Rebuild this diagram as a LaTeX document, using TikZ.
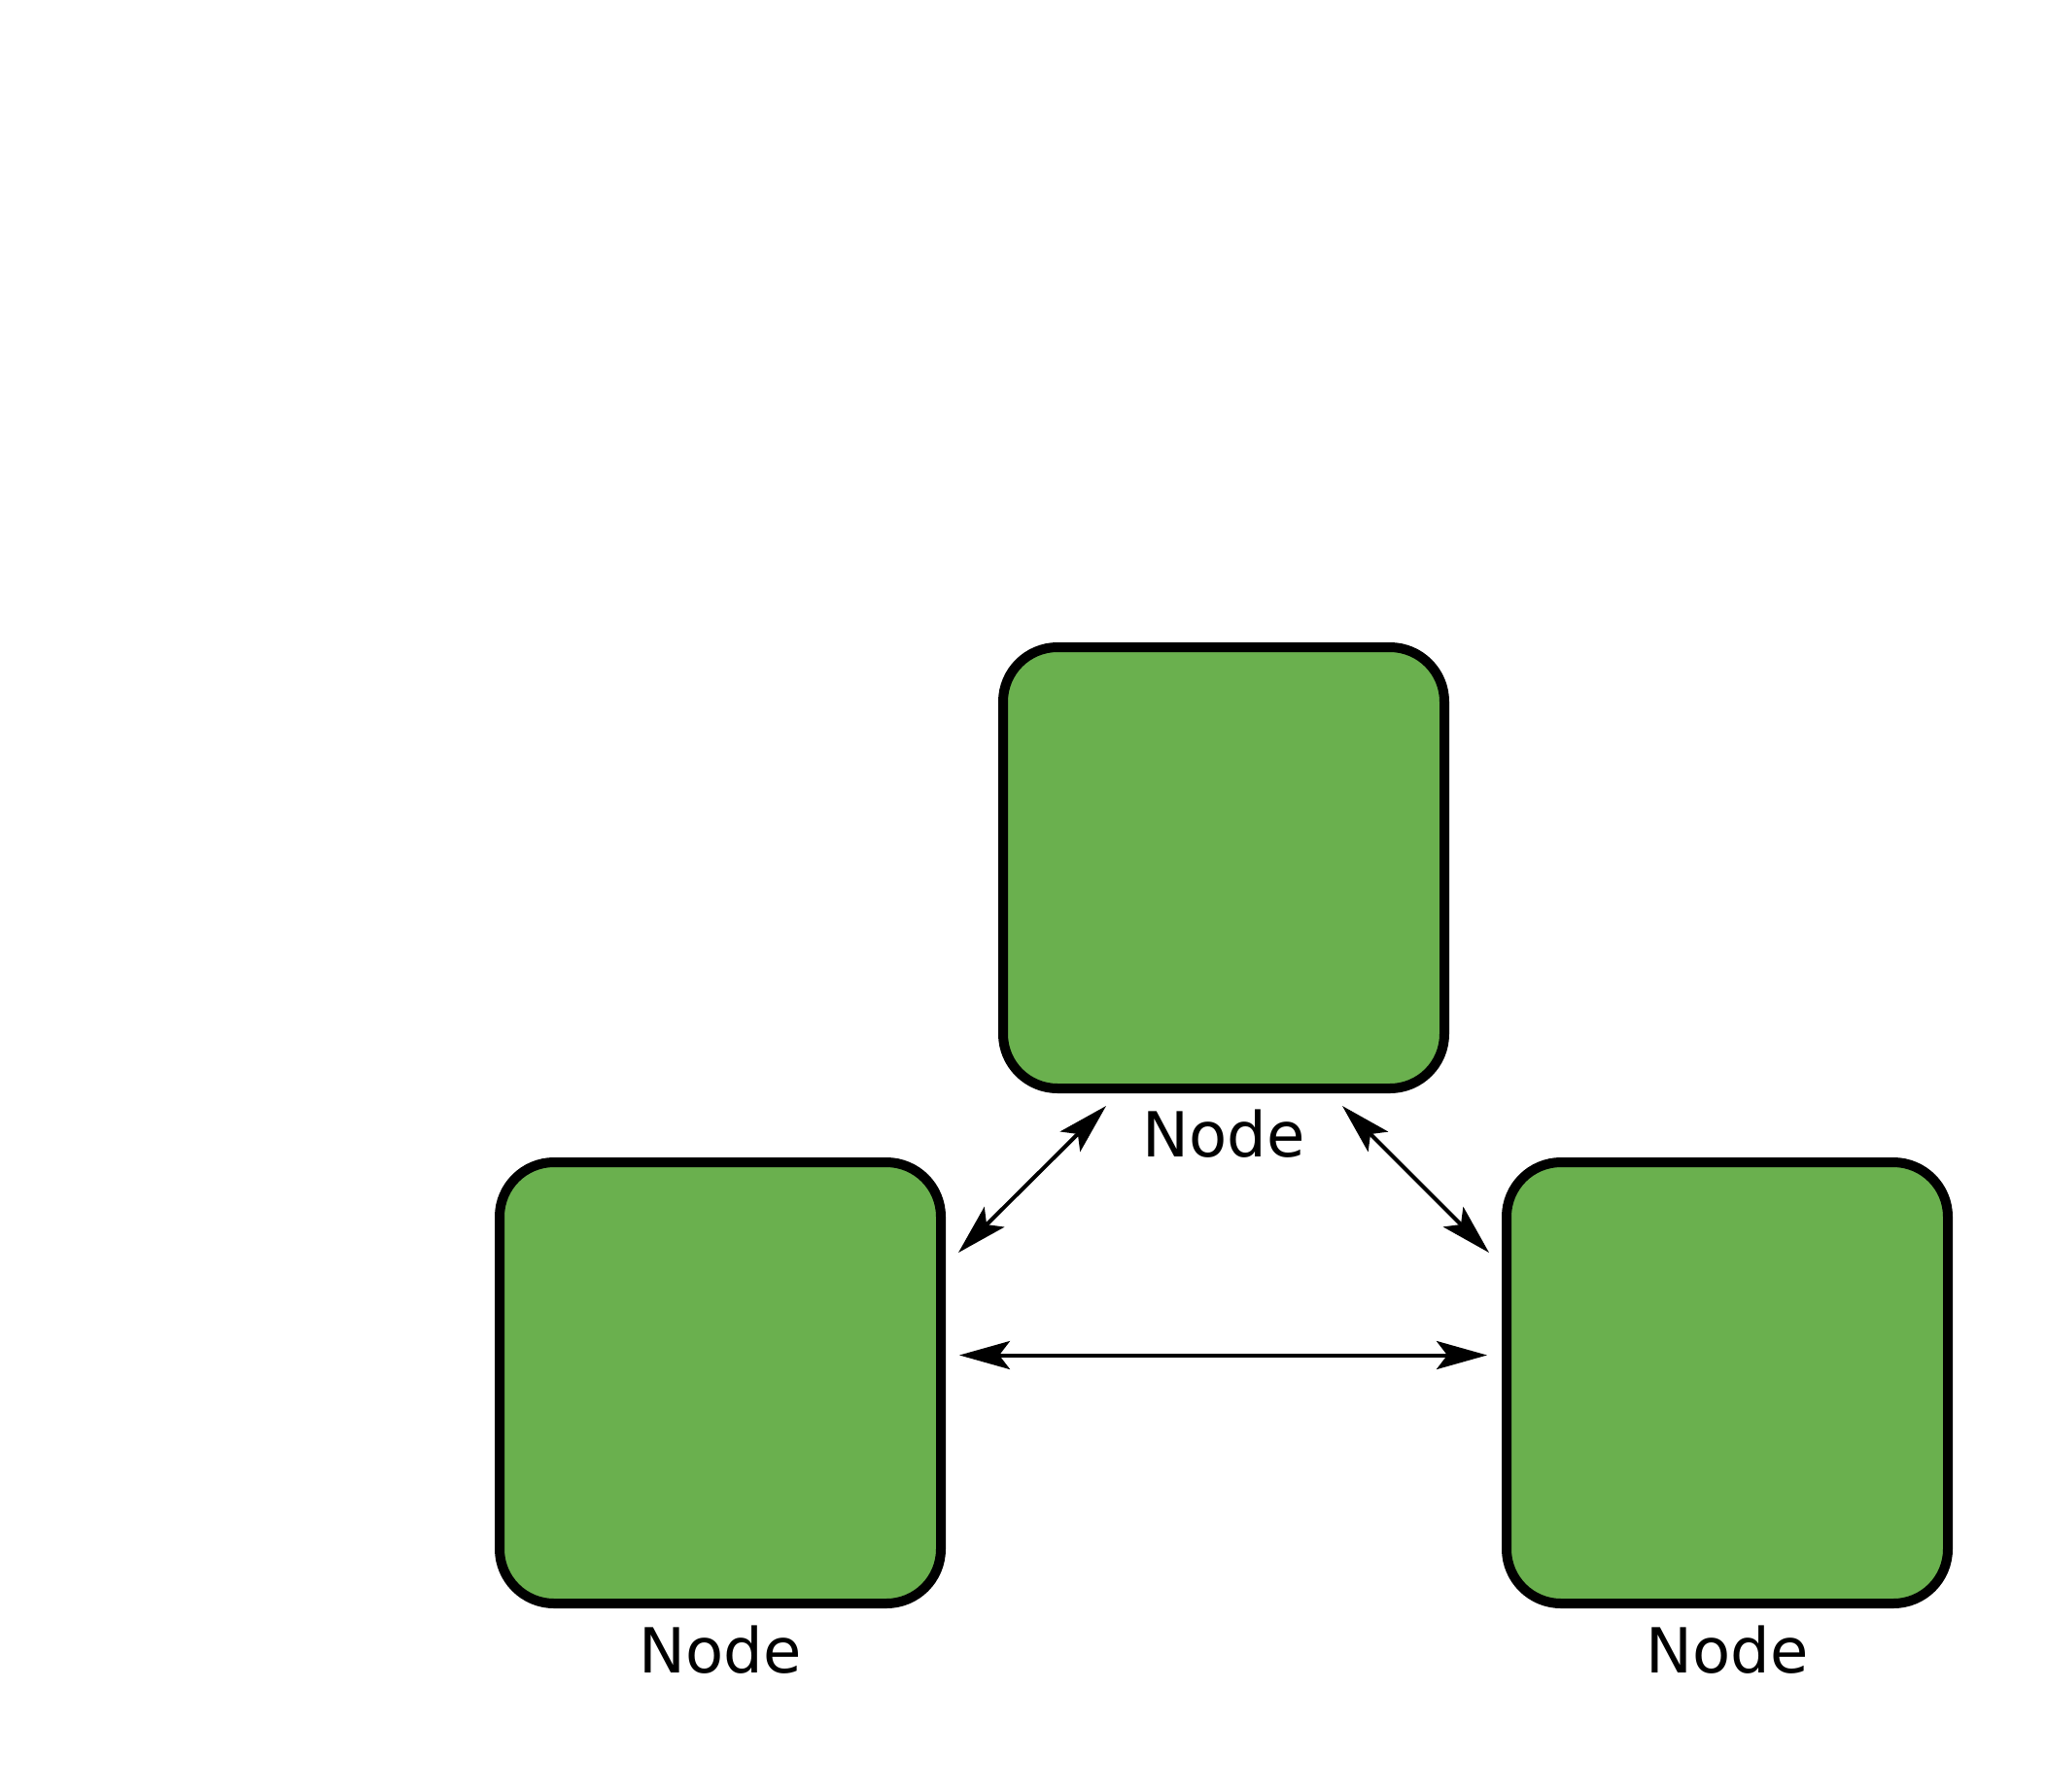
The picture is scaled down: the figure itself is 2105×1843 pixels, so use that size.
\documentclass[tikz,border=0pt]{standalone}
\usepackage{fontspec}
\setmainfont{DejaVu Sans}
\usetikzlibrary{arrows.meta,calc}
\definecolor{boxgreen}{RGB}{106,176,78}
\begin{document}
\begin{tikzpicture}[x=0.5pt,y=-0.5pt,
  box/.style={draw=black,fill=boxgreen,line width=5pt,rounded corners=28pt,
    minimum width=227pt,minimum height=227pt,inner sep=0pt},
  lbl/.style={font=\fontsize{32pt}{38pt}\selectfont,anchor=base,inner sep=0pt},
  conn/.style={line width=2pt,{Stealth[length=26pt,width=14.5pt,inset=5.5pt]}-{Stealth[length=26pt,width=14.5pt,inset=5.5pt]}}]
\useasboundingbox (0,0) rectangle (2105,1843);
\node[box] (T) at (1259,893) {};
\node[box] (L) at (741,1423) {};
\node[box] (R) at (1777,1423) {};
\node[lbl] (Tl) at (1259,1190) {Node};
\node[lbl] (Ll) at (741,1721) {Node};
\node[lbl] (Rl) at (1777,1721) {Node};
\coordinate (a1) at ($(L)+(245,-134)$);
\coordinate (a2) at ($(T)+(-121,245)$);
\coordinate (b1) at ($(T)+(122,245)$);
\coordinate (b2) at ($(R)+(-245,-134)$);
\coordinate (c1) at ($(L)+(246,-28.5)$);
\coordinate (c2) at ($(R)+(-247,-28.5)$);
\draw[conn] (a1) -- (a2);
\draw[conn] (b1) -- (b2);
\draw[conn] (c1) -- (c2);
\end{tikzpicture}
\end{document}
